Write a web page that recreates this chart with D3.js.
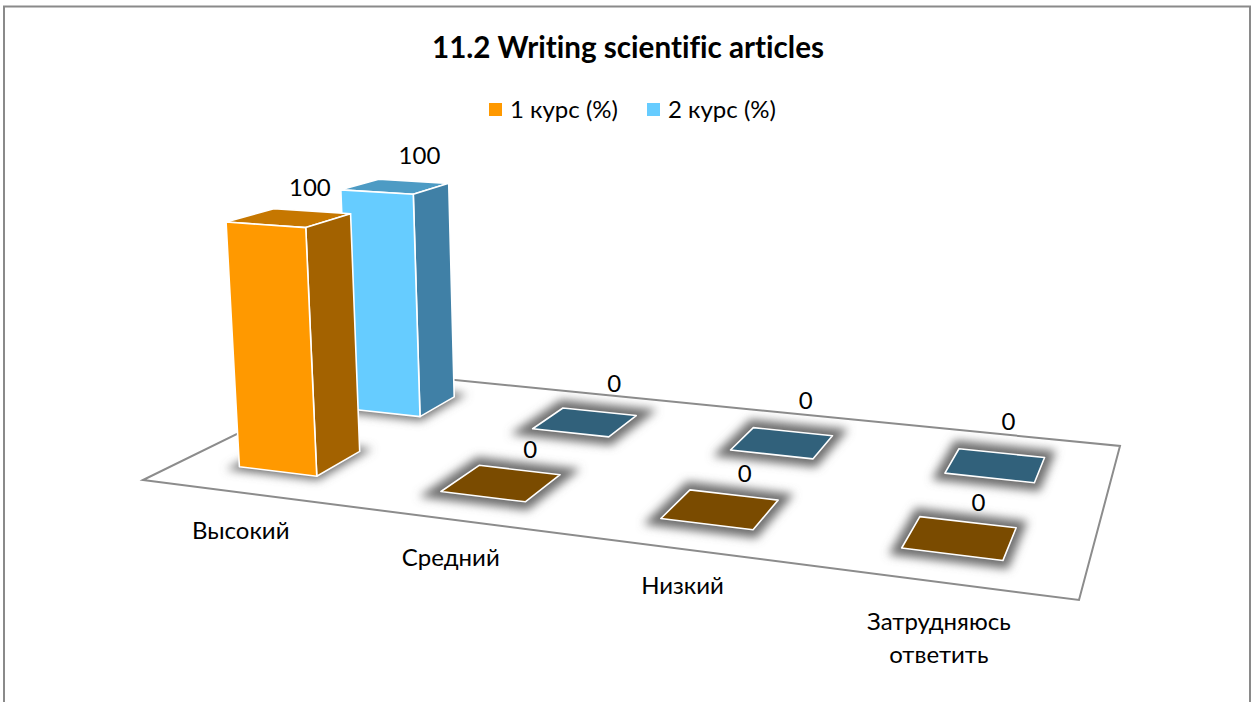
<!DOCTYPE html>
<html><head><meta charset="utf-8">
<script src="https://cdn.jsdelivr.net/npm/d3@7"></script>
<style>html,body{margin:0;padding:0;background:#fff}svg{display:block}text{font-family:Lato,"Noto Sans",sans-serif;fill:#000;font-variant-ligatures:none}</style>
</head><body><svg id="c" width="1257" height="702"></svg>
<script>
const titleText="11.2 Writing scientific articles";
const categories=["Высокий","Средний","Низкий","Затрудняюсь ответить"];
const seriesNames=["1 курс (%)","2 курс (%)"];
const series1=[100,0,0,0];
const series2=[100,0,0,0];
const seriesFace=["#FF9900","#66CCFF"],seriesSide=["#A36200","#4080A6"],seriesTop=["#C67700","#4D9BC4"],seriesZero=["#7A4B00","#31617B"];
const W=1257,H=702,svg=d3.select("#c");
const floorPx=[[143,480],[1079,600],[1120,446],[365,371]];
function homography(q){const [[x0,y0],[x1,y1],[x2,y2],[x3,y3]]=q;
 const dx1=x1-x2,dx2=x3-x2,sx=x0-x1+x2-x3,dy1=y1-y2,dy2=y3-y2,sy=y0-y1+y2-y3;
 const den=dx1*dy2-dx2*dy1,g=(sx*dy2-dx2*sy)/den,h=(dx1*sy-sx*dy1)/den;
 return {a:x1-x0+g*x1,b:x3-x0+h*x3,c:x0,d:y1-y0+g*y1,e:y3-y0+h*y3,f:y0,g,h};}
const H0=homography(floorPx);
const uScale=d3.scaleBand().domain(d3.range(4)).range([-0.003,0.997]).paddingInner(0.606).paddingOuter(0.303);
const vScale=d3.scaleBand().domain([0,1]).range([0,1]).paddingInner(0.612).paddingOuter(0.306);
const zScale=d3.scaleLinear().domain([0,100]).range([0,1]);
const VP=[650,8000];
function hom(u,v){return [H0.a*u+H0.b*v+H0.c,H0.d*u+H0.e*v+H0.f,H0.g*u+H0.h*v+1];}
const a0=hom(uScale(0),vScale(0));
const lift=(a0[1]-222*a0[2])/(222-VP[1]);
function P(u,v,z){const [X,Y,w]=hom(u,v),t=zScale(z)*lift;return [(X+t*VP[0])/(w+t),(Y+t*VP[1])/(w+t)];}
const defs=svg.append("defs");
defs.append("filter").attr("id","blur").attr("x","-60%").attr("y","-80%").attr("width","220%").attr("height","260%").append("feGaussianBlur").attr("stdDeviation",5);
svg.append("path").attr("d",`M4,702V6.5H1250V702`).attr("fill","none").attr("stroke","#8a8a8a").attr("stroke-width",2);
const line=d3.line();
const poly=p=>line(p)+"Z";
svg.append("path").attr("d",poly([[0,0],[1,0],[1,1],[0,1]].map(d=>P(d[0],d[1],0)))).attr("fill","#fff").attr("stroke","#8c8c8c").attr("stroke-width",2).attr("stroke-linejoin","miter");
const allSeries=[series1,series2];
function box(i,s,val){
 const u0=uScale(i),u1=u0+uScale.bandwidth(),v0=vScale(s),v1=v0+vScale.bandwidth();
 const base=[P(u0,v0,0),P(u1,v0,0),P(u1,v1,0),P(u0,v1,0)],top=[P(u0,v0,val),P(u1,v0,val),P(u1,v1,val),P(u0,v1,val)];
 const g=svg.append("g");
 g.append("path").attr("d",poly(base)).attr("fill","#6e6e6e").attr("stroke","#6e6e6e").attr("stroke-width",val>0?8:16).attr("filter","url(#blur)");
 const st={stroke:"#fff","stroke-width":1.6,"stroke-linejoin":"round"};
 const add=(p,f)=>{const e=g.append("path").attr("d",poly(p)).attr("fill",f);Object.entries(st).forEach(([k,v])=>e.attr(k,v));};
 if(val>0){
  add([top[3],top[2],top[1],top[0]],seriesTop[s]);
  add([base[1],base[2],top[2],top[1]],seriesSide[s]);
  add([base[0],base[1],top[1],top[0]],seriesFace[s]);
 } else add(base,seriesZero[s]);
}
[1,0].forEach(s=>allSeries[s].forEach((val,i)=>box(i,s,val)));
const labelNudge=[[[-2,-24],[11,-20],[11,-21],[11,-20]],[[6,-26],[15,-28],[13,-31],[7,-32]]];
const fs=24;
[1,0].forEach(s=>allSeries[s].forEach((val,i)=>{
 const p=P(uScale(i)+uScale.bandwidth()/2,vScale(s)+vScale.bandwidth(),val),n=labelNudge[s][i];
 svg.append("text").attr("x",p[0]+n[0]).attr("y",p[1]+n[1]).attr("dy","0.35em").attr("text-anchor","middle").attr("font-size",fs).text(val);
}));
const catLabel=[[-37,59],[-32,61],[-24,62],[-13,67]];
categories.forEach((c,i)=>{
 const p=P(uScale(i)+uScale.bandwidth()/2,vScale(0),0),n=catLabel[i],parts=c.split(" ");
 parts.forEach((t,k)=>svg.append("text").attr("x",p[0]+n[0]).attr("y",p[1]+n[1]+k*33).attr("dy","0.35em").attr("text-anchor","middle").attr("font-size",fs).text(t));
});
svg.append("text").attr("x",628).attr("y",58).attr("text-anchor","middle").attr("font-size",29.6).attr("font-weight",700).text(titleText);
const legX=[489,647];
seriesNames.forEach((n,i)=>{
 svg.append("rect").attr("x",legX[i]).attr("y",103).attr("width",13).attr("height",13).attr("fill",seriesFace[i]);
 svg.append("text").attr("x",legX[i]+21).attr("y",118).attr("font-size",fs).text(n);
});
</script></body></html>
